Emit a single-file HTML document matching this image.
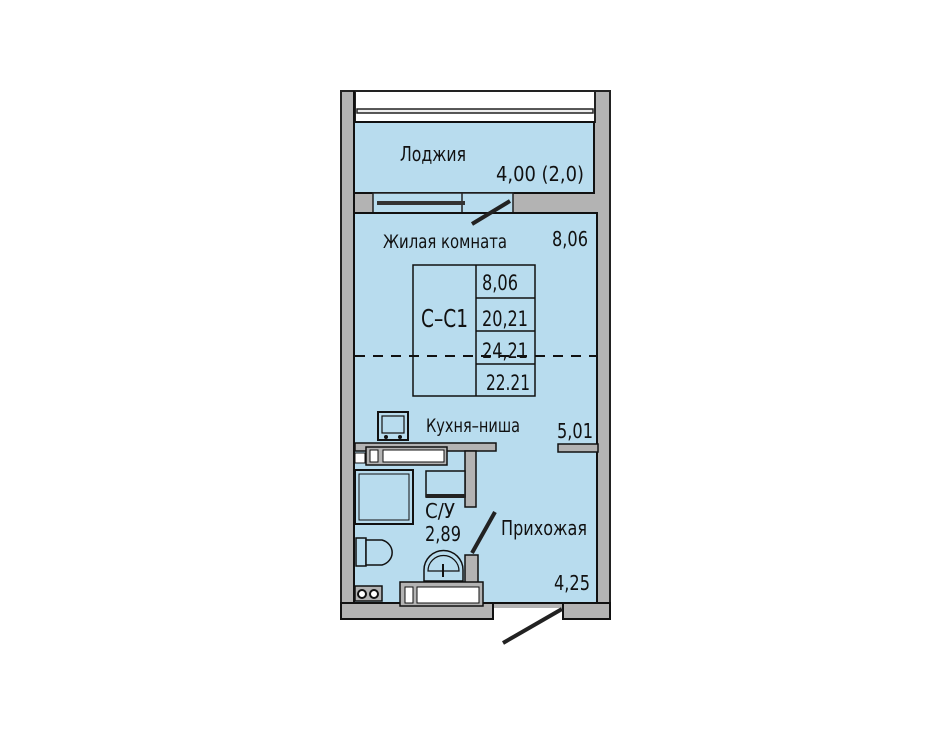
<!DOCTYPE html>
<html><head><meta charset="utf-8"><style>
html,body{margin:0;padding:0;background:#fff;width:950px;height:734px;overflow:hidden}
svg text{font-family:"DejaVu Sans Condensed","Liberation Sans",sans-serif;fill:#111}
</style></head><body>
<svg width="950" height="734" viewBox="0 0 950 734" xmlns="http://www.w3.org/2000/svg">
<rect x="341" y="91" width="269" height="528" fill="#b3b3b3" stroke="#222" stroke-width="2"/>
<rect x="355" y="91" width="240" height="31" fill="#fff" stroke="#222" stroke-width="2"/>
<rect x="357" y="109" width="236" height="4" fill="#eee" stroke="#222" stroke-width="1.5"/>
<rect x="354" y="122" width="240" height="71" fill="#b8dcee" stroke="#111" stroke-width="2"/>
<rect x="373" y="193" width="140" height="22" fill="#b8dcee" stroke="#222" stroke-width="1.5"/>
<line x1="462" y1="193" x2="462" y2="215" stroke="#222" stroke-width="1.5"/>
<rect x="377" y="201" width="88" height="4" fill="#333"/>
<path d="M354 213 H597 V607 H563 V603 H493 V603 H354 Z" fill="#b8dcee" stroke="#111" stroke-width="2"/>
<line x1="472" y1="224" x2="510" y2="201" stroke="#222" stroke-width="4"/>
<rect x="493" y="608" width="70" height="12" fill="#fff"/>
<rect x="563" y="603" width="47" height="16" fill="#b3b3b3" stroke="#111" stroke-width="2"/>
<rect x="341" y="603" width="152" height="16" fill="#b3b3b3" stroke="#111" stroke-width="2"/>
<line x1="354" y1="603" x2="354" y2="91" stroke="#111" stroke-width="2"/>
<line x1="562" y1="609" x2="503" y2="643" stroke="#222" stroke-width="4"/>
<rect x="558" y="444" width="40" height="8" fill="#b3b3b3" stroke="#111" stroke-width="1.5"/>
<line x1="355" y1="356" x2="597" y2="356" stroke="#111" stroke-width="2" stroke-dasharray="10,8"/>
<rect x="413" y="265" width="122" height="131" fill="none" stroke="#111" stroke-width="1.5"/>
<line x1="476" y1="265" x2="476" y2="396" stroke="#111" stroke-width="1.5"/>
<line x1="476" y1="298" x2="535" y2="298" stroke="#111" stroke-width="1.5"/>
<line x1="476" y1="331" x2="535" y2="331" stroke="#111" stroke-width="1.5"/>
<line x1="476" y1="364" x2="535" y2="364" stroke="#111" stroke-width="1.5"/>
<text x="421" y="327" font-size="25" textLength="47" lengthAdjust="spacingAndGlyphs">С–С1</text>
<text x="482" y="290" font-size="21" textLength="36" lengthAdjust="spacingAndGlyphs">8,06</text>
<text x="482" y="326" font-size="21" textLength="46" lengthAdjust="spacingAndGlyphs">20,21</text>
<text x="482" y="358" font-size="21" textLength="46" lengthAdjust="spacingAndGlyphs">24,21</text>
<text x="486" y="390" font-size="21" textLength="44" lengthAdjust="spacingAndGlyphs">22.21</text>
<text x="400" y="161" font-size="20" textLength="66" lengthAdjust="spacingAndGlyphs">Лоджия</text>
<text x="496" y="181" font-size="20" textLength="88" lengthAdjust="spacingAndGlyphs">4,00 (2,0)</text>
<text x="383" y="248" font-size="19" textLength="124" lengthAdjust="spacingAndGlyphs">Жилая комната</text>
<text x="552" y="246" font-size="20" textLength="36" lengthAdjust="spacingAndGlyphs">8,06</text>
<text x="426" y="432" font-size="19" textLength="94" lengthAdjust="spacingAndGlyphs">Кухня–ниша</text>
<text x="557" y="438" font-size="20" textLength="36" lengthAdjust="spacingAndGlyphs">5,01</text>
<text x="501" y="535" font-size="20" textLength="86" lengthAdjust="spacingAndGlyphs">Прихожая</text>
<text x="554" y="590" font-size="20" textLength="36" lengthAdjust="spacingAndGlyphs">4,25</text>
<text x="425" y="518" font-size="20" textLength="30" lengthAdjust="spacingAndGlyphs">С/У</text>
<text x="425" y="541" font-size="20" textLength="36" lengthAdjust="spacingAndGlyphs">2,89</text>
<rect x="378" y="412" width="30" height="28" fill="#b8dcee" stroke="#111" stroke-width="2"/>
<rect x="382" y="416" width="22" height="17" fill="none" stroke="#111" stroke-width="1.2"/>
<circle cx="386" cy="437" r="2" fill="#111"/><circle cx="400" cy="437" r="2" fill="#111"/>
<rect x="355" y="443" width="141" height="8" fill="#b3b3b3" stroke="#111" stroke-width="1.5"/>
<rect x="465" y="451" width="11" height="56" fill="#b3b3b3" stroke="#111" stroke-width="1.5"/>
<rect x="366" y="447" width="81" height="18" fill="#b3b3b3" stroke="#111" stroke-width="1.5"/>
<rect x="383" y="450" width="61" height="12" fill="#fff" stroke="#111" stroke-width="1"/>
<rect x="370" y="450" width="8" height="12" fill="#fff" stroke="#111" stroke-width="1"/>
<rect x="355" y="453" width="10" height="10" fill="#fff" stroke="#111" stroke-width="1"/>
<rect x="355" y="470" width="58" height="54" fill="#b8dcee" stroke="#111" stroke-width="2"/>
<rect x="359" y="474" width="50" height="46" fill="none" stroke="#111" stroke-width="1"/>
<rect x="426" y="471" width="39" height="26" fill="#b8dcee" stroke="#111" stroke-width="1.5"/>
<rect x="426" y="494" width="39" height="4" fill="#222"/>
<rect x="356" y="538" width="10" height="28" fill="#b8dcee" stroke="#111" stroke-width="1.5"/>
<path d="M366 540 H382 A14 13 0 0 1 382 565 H366 Z" fill="#b8dcee" stroke="#111" stroke-width="1.5"/>
<path d="M424 581 V570 A19 19 0 0 1 463 570 V581 Z" fill="#b8dcee" stroke="#111" stroke-width="1.5"/>
<path d="M428 571 A15 15 0 0 1 459 571 Z" fill="none" stroke="#111" stroke-width="1.2"/>
<line x1="443" y1="564" x2="443" y2="577" stroke="#111" stroke-width="2"/>
<rect x="465" y="555" width="13" height="28" fill="#b3b3b3" stroke="#111" stroke-width="1.5"/>
<line x1="472" y1="553" x2="495" y2="512" stroke="#222" stroke-width="4"/>
<rect x="400" y="582" width="83" height="24" fill="#b3b3b3" stroke="#111" stroke-width="1.5"/>
<rect x="405" y="587" width="8" height="16" fill="#fff" stroke="#111" stroke-width="1"/>
<rect x="417" y="587" width="62" height="16" fill="#fff" stroke="#111" stroke-width="1"/>
<rect x="355" y="586" width="27" height="15" fill="#b3b3b3" stroke="#111" stroke-width="1.5"/>
<circle cx="362" cy="594" r="4" fill="#fff" stroke="#111" stroke-width="2"/>
<circle cx="374" cy="594" r="4" fill="#fff" stroke="#111" stroke-width="2"/>
</svg>
</body></html>
